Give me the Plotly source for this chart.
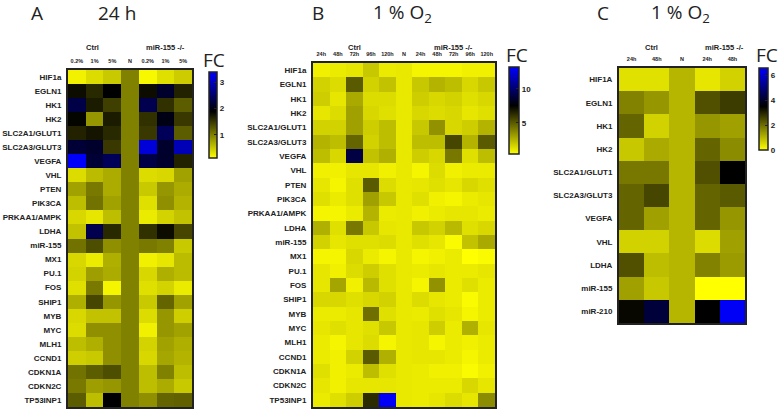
import plotly.graph_objects as go

W, H = 783, 412

genes_ab = ["HIF1a", "EGLN1", "HK1", "HK2", "SLC2A1/GLUT1", "SLC2A3/GLUT3", "VEGFA",
            "VHL", "PTEN", "PIK3CA", "PRKAA1/AMPK", "LDHA", "miR-155", "MX1", "PU.1",
            "FOS", "SHIP1", "MYB", "MYC", "MLH1", "CCND1", "CDKN1A", "CDKN2C", "TP53INP1"]

cols_a = ["0.2%", "1%", "5%", "N", "0.2%", "1%", "5%"]
fc_a = [
    [0.22, 0.37, 0.50, 1.0, 0.18, 0.35, 0.48],
    [1.80, 1.60, 1.90, 1.0, 1.80, 2.15, 1.65],
    [2.30, 1.70, 1.45, 1.0, 2.35, 1.55, 1.25],
    [1.85, 0.85, 1.70, 1.0, 1.55, 2.00, 1.50],
    [1.65, 1.75, 1.60, 1.0, 1.50, 2.40, 1.25],
    [2.20, 2.15, 1.50, 1.0, 3.15, 2.15, 2.95],
    [3.35, 2.20, 2.40, 1.0, 2.30, 2.15, 1.65],
    [0.37, 0.60, 0.70, 1.0, 0.37, 0.40, 0.78],
    [0.78, 1.05, 0.70, 1.0, 0.50, 0.85, 0.70],
    [0.58, 1.10, 0.78, 1.0, 0.35, 0.90, 0.65],
    [0.40, 0.30, 0.58, 1.0, 0.27, 0.43, 0.55],
    [0.55, 2.35, 1.60, 1.0, 1.55, 1.80, 1.40],
    [1.10, 1.35, 0.90, 1.0, 1.05, 1.00, 0.50],
    [0.40, 0.27, 0.68, 1.0, 0.23, 0.30, 0.60],
    [0.43, 0.80, 0.70, 1.0, 0.40, 0.68, 0.60],
    [0.35, 1.05, 0.20, 1.0, 0.35, 0.43, 0.27],
    [0.68, 1.40, 0.85, 1.0, 0.50, 1.20, 0.78],
    [0.40, 0.55, 0.55, 1.0, 0.37, 0.85, 0.47],
    [0.37, 0.90, 0.90, 1.0, 0.23, 0.85, 0.78],
    [0.58, 0.68, 0.90, 1.0, 0.43, 0.78, 0.68],
    [0.47, 0.50, 0.90, 1.0, 0.40, 0.74, 0.65],
    [1.10, 1.25, 1.35, 1.0, 0.58, 1.00, 0.58],
    [1.05, 0.80, 0.85, 1.0, 0.58, 0.70, 0.50],
    [1.25, 0.58, 1.90, 1.0, 0.90, 1.20, 1.22],
]

cols_b = ["24h", "48h", "72h", "96h", "120h", "N", "24h", "48h", "72h", "96h", "120h"]
fc_b = [
    [0.82, 0.95, 1.10, 1.93, 0.95, 1.0, 0.68, 0.68, 0.68, 0.82, 0.82],
    [1.65, 1.37, 5.00, 1.65, 2.10, 1.0, 1.93, 2.50, 2.20, 1.50, 1.93],
    [1.80, 1.10, 2.80, 1.37, 1.37, 1.0, 1.80, 1.50, 1.65, 1.25, 1.50],
    [1.10, 1.37, 3.05, 1.50, 1.25, 1.0, 1.50, 1.37, 1.50, 1.10, 1.25],
    [1.65, 1.65, 3.05, 1.80, 2.20, 1.0, 1.93, 3.45, 1.50, 1.80, 2.50],
    [2.50, 2.20, 4.70, 1.65, 2.20, 1.0, 2.20, 2.20, 5.55, 2.50, 5.00],
    [2.20, 1.50, 9.00, 2.10, 2.60, 1.0, 1.80, 1.50, 4.15, 1.25, 2.20],
    [0.82, 0.82, 1.10, 1.10, 0.82, 1.0, 0.68, 1.37, 0.82, 0.95, 0.95],
    [1.10, 0.68, 1.25, 5.00, 1.37, 1.0, 1.10, 1.25, 1.10, 1.50, 1.25],
    [1.25, 0.95, 1.25, 3.05, 1.93, 1.0, 1.25, 0.82, 0.68, 0.95, 1.10],
    [0.68, 0.68, 0.95, 2.50, 0.95, 1.0, 0.82, 0.95, 1.10, 1.10, 0.95],
    [2.60, 1.25, 4.15, 1.93, 1.10, 1.0, 1.93, 1.65, 2.35, 1.25, 1.50],
    [1.65, 1.10, 1.25, 1.25, 1.37, 1.0, 1.25, 1.10, 0.54, 2.10, 2.80],
    [0.68, 0.68, 1.50, 0.95, 0.68, 1.0, 0.68, 0.82, 0.95, 0.40, 0.54],
    [1.10, 0.82, 1.37, 1.80, 1.25, 1.0, 0.95, 1.10, 0.95, 0.95, 1.10],
    [1.10, 2.90, 0.82, 2.35, 1.25, 1.0, 0.68, 3.45, 0.95, 1.25, 0.95],
    [1.50, 1.50, 1.25, 1.50, 1.65, 1.0, 1.37, 1.10, 0.95, 0.54, 0.95],
    [0.95, 0.95, 1.10, 4.40, 1.25, 1.0, 0.95, 1.25, 1.10, 0.68, 0.95],
    [1.10, 1.25, 1.10, 1.25, 1.93, 1.0, 1.10, 1.80, 0.95, 2.60, 1.10],
    [0.95, 0.68, 1.10, 1.37, 0.68, 1.0, 1.10, 0.68, 0.95, 0.82, 0.95],
    [0.95, 0.82, 1.65, 5.00, 2.60, 1.0, 1.10, 1.10, 0.95, 0.68, 0.95],
    [1.25, 0.82, 0.95, 2.20, 1.25, 1.0, 0.95, 0.82, 0.82, 0.54, 0.82],
    [1.10, 0.82, 1.10, 1.10, 1.10, 1.0, 0.95, 0.95, 0.95, 1.50, 1.10],
    [0.95, 1.25, 1.80, 6.30, 13.0, 1.0, 0.95, 1.10, 1.37, 1.10, 3.60],
]

genes_c = ["HIF1A", "EGLN1", "HK1", "HK2", "SLC2A1/GLUT1", "SLC2A3/GLUT3", "VEGFA",
           "VHL", "LDHA", "miR-155", "miR-210"]
cols_c = ["24h", "48h", "N", "24h", "48h"]
fc_c = [
    [0.41, 0.41, 1.0, 0.34, 0.62],
    [1.72, 1.44, 1.0, 2.40, 2.68],
    [2.13, 0.62, 1.0, 1.44, 1.30],
    [0.75, 1.17, 1.0, 2.13, 1.58],
    [1.85, 1.85, 1.0, 2.40, 3.50],
    [2.13, 2.54, 1.0, 2.13, 2.26],
    [2.13, 1.30, 1.0, 2.13, 1.44],
    [0.62, 0.62, 1.0, 0.48, 1.30],
    [2.40, 0.89, 1.0, 1.72, 1.37],
    [1.30, 0.75, 1.0, 0.00, 0.00],
    [3.40, 4.20, 1.0, 3.50, 6.50],
]


def fx(p):
    return p / W


def fy(p):
    return 1 - p / H


LBL = dict(family="Liberation Sans", size=8, color="#222222", weight="bold")
TITLE = dict(family="Open Sans", size=19, color="#222222")

panels = [
    dict(z=fc_a, cols=cols_a, rows=genes_ab, xr=(68, 192), yr=(70, 407),
         zr=(0.13, 3.38), black=0.54, cb=(209, 72, 86, 8), ticks=[1, 2, 3],
         colsize=5.5, fc=(214, 60), groups=[(0.9, "Ctrl"), (5, "miR-155 -/-")], glab_y=48),
    dict(z=fc_b, cols=cols_b, rows=genes_ab, xr=(313, 495), yr=(63, 407),
         zr=(0.4, 13.2), black=0.555, cb=(509, 67, 87, 10), ticks=[5, 10],
         colsize=5.5, fc=(517, 55), groups=[(2, "Ctrl"), (8, "miR-155 -/-")], glab_y=48),
    dict(z=fc_c, cols=cols_c, rows=genes_c, xr=(619, 745), yr=(68, 323),
         zr=(0.0, 6.6), black=0.53, cb=(759, 68, 82, 9), ticks=[0, 2, 4, 6],
         colsize=5.5, fc=(767, 55), groups=[(0.8, "Ctrl"), (3.7, "miR-155 -/-")], glab_y=48),
]

fig = go.Figure()
annotations = []
layout = {}
for i, p in enumerate(panels):
    n = i + 1
    xa = "x" if n == 1 else f"x{n}"
    ya = "y" if n == 1 else f"y{n}"
    cs = [[0, "#ffff00"], [p["black"], "#000000"], [1, "#0000ff"]]
    cbx, cby, cblen, cbth = p["cb"]
    fig.add_trace(go.Heatmap(
        z=p["z"], x=list(range(len(p["cols"]))), y=p["rows"],
        xaxis=xa, yaxis=ya, zmin=p["zr"][0], zmax=p["zr"][1], colorscale=cs,
        colorbar=dict(x=fx(cbx), xanchor="left", y=fy(cby), yanchor="top",
                      lenmode="pixels", len=cblen, thickness=cbth, xpad=0, ypad=0,
                      outlinewidth=1.5, outlinecolor="#222222",
                      tickvals=p["ticks"], ticks="inside", ticklen=3, tickcolor="#222222",
                      tickfont=dict(family="Liberation Sans", size=8, color="#222222", weight="bold")),
    ))
    ncol = len(p["cols"])
    layout["xaxis" if n == 1 else f"xaxis{n}"] = dict(
        domain=[fx(p["xr"][0]), fx(p["xr"][1])], anchor=ya, side="top",
        tickvals=list(range(ncol)), ticktext=p["cols"], range=[-0.5, ncol - 0.5],
        tickfont=dict(family="Liberation Sans", size=p["colsize"], color="#222222", weight="bold"),
        showline=True, mirror=True, linecolor="#222222", linewidth=2, automargin=False,
        ticks="", showgrid=False, zeroline=False, fixedrange=True, ticklabelstandoff=3)
    layout["yaxis" if n == 1 else f"yaxis{n}"] = dict(
        domain=[fy(p["yr"][1]), fy(p["yr"][0])], anchor=xa, autorange="reversed",
        tickfont=LBL, showline=True, mirror=True, linecolor="#222222", linewidth=2,
        automargin=False, ticks="", showgrid=False, zeroline=False, fixedrange=True,
        ticklabelstandoff=3)
    for gx, gt in p["groups"]:
        annotations.append(dict(x=gx, xref=xa, y=fy(p["glab_y"]), yref="paper",
                                xanchor="center", yanchor="middle",
                                text=gt, showarrow=False,
                                font=dict(family="Liberation Sans", size=7.5, color="#222222", weight="bold")))
    annotations.append(dict(x=fx(p["fc"][0]), y=fy(p["fc"][1]), xref="paper", yref="paper",
                            xanchor="center", yanchor="middle",
                            text="FC", showarrow=False,
                            font=dict(family="Open Sans", size=19, color="#222222")))

for x, t in [(37, "A"), (117, "24 h"), (318, "B"), (402, "1 % O<sub>2</sub>"),
             (603, "C"), (680, "1 % O<sub>2</sub>")]:
    annotations.append(dict(x=fx(x), y=fy(13), xref="paper", yref="paper", text=t,
                            xanchor="center", yanchor="middle",
                            showarrow=False, font=TITLE))

fig.update_layout(width=W, height=H, margin=dict(l=0, r=0, t=0, b=0, autoexpand=False),
                  paper_bgcolor="white", plot_bgcolor="white",
                  annotations=annotations, **layout)

fig.write_html("out.html", config={"displayModeBar": False},
               post_script="document.body.style.margin='0';document.body.style.padding='0';")
